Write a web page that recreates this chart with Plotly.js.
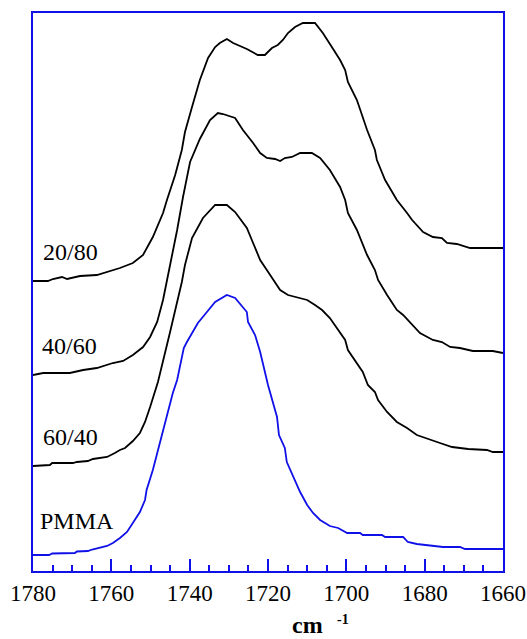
<!DOCTYPE html>
<html>
<head>
<meta charset="utf-8">
<script src="https://cdn.plot.ly/plotly-3.0.1.min.js"></script>
<style>
html,body{margin:0;padding:0;background:#fff;}
#chart{width:527px;height:639px;}
#chart text{font-family:'Liberation Serif','Times New Roman',serif !important;}
</style>
</head>
<body>
<div id="chart"></div>
<script>
// Wavenumbers (cm^-1) and offset absorbance (arbitrary units)
const pmmaX = [1780,1775.9,1775.1,1769.3,1768.8,1766.0,1764.9,1762.9,1761.1,1759.6,1757.8,1756.0,1754.5,1752.7,1751.4,1751.0,1749.4,1747.6,1745.8,1744.3,1743.2,1741.5,1740.7,1737.9,1735.6,1733.5,1730.5,1728.4,1725.4,1725.1,1723.3,1722.0,1720.0,1718.7,1717.7,1717.2,1715.7,1715.2,1713.6,1711.8,1710.0,1708.5,1706.7,1704.2,1702.1,1699.8,1696.5,1695.8,1690.9,1690.1,1685.5,1684.3,1682.0,1679.4,1675.3,1671.0,1669.7,1660];
const pmmaY = [0.16,0.16,0.175,0.18,0.195,0.20,0.215,0.23,0.25,0.28,0.33,0.39,0.48,0.59,0.71,0.81,1.01,1.28,1.54,1.78,1.91,2.23,2.29,2.48,2.59,2.69,2.76,2.73,2.59,2.49,2.36,2.19,1.86,1.68,1.54,1.36,1.23,1.09,0.94,0.79,0.66,0.58,0.51,0.45,0.43,0.38,0.38,0.36,0.36,0.34,0.34,0.29,0.27,0.26,0.24,0.24,0.22,0.22];

const b6040X = [1780,1775.7,1775.1,1769.8,1768.8,1766.0,1764.7,1761.1,1759.1,1757.8,1756.5,1754.5,1752.7,1751.4,1750.1,1749.4,1748.1,1745.0,1742.0,1741.2,1739.4,1736.6,1733.5,1730.5,1728.4,1725.4,1722.0,1720.3,1718.7,1716.9,1714.9,1712.6,1710.0,1708.0,1706.2,1704.2,1702.1,1700.3,1699.6,1697.8,1695.8,1694.5,1692.7,1691.9,1689.6,1687.1,1684.5,1682.0,1678.6,1676.1,1673.0,1668.9,1664.1,1662.6,1660];
const b6040Y = [1.05,1.06,1.08,1.08,1.09,1.10,1.12,1.14,1.18,1.21,1.23,1.30,1.38,1.49,1.64,1.73,1.89,2.39,2.89,3.06,3.33,3.53,3.66,3.66,3.59,3.43,3.11,3.01,2.91,2.81,2.76,2.74,2.71,2.66,2.61,2.53,2.41,2.31,2.21,2.11,1.99,1.86,1.79,1.71,1.59,1.49,1.43,1.36,1.31,1.28,1.24,1.22,1.21,1.19,1.19];

const b4060X = [1780,1777.4,1770.6,1767.2,1763.7,1759.6,1757.0,1754.5,1751.9,1750.1,1748.3,1746.8,1745.0,1743.2,1741.7,1739.9,1737.4,1734.8,1732.8,1731.5,1728.4,1726.4,1723.8,1722.0,1720.3,1718.2,1716.9,1715.7,1713.9,1711.8,1708.8,1706.7,1704.2,1701.6,1700.3,1699.6,1697.3,1694.7,1692.7,1691.9,1689.6,1687.1,1685.5,1683.2,1681.2,1677.9,1675.6,1673.5,1671.0,1667.7,1662.6,1660];
const b4060Y = [1.96,1.98,1.98,2.01,2.03,2.08,2.10,2.16,2.24,2.34,2.49,2.71,3.06,3.41,3.74,4.09,4.32,4.51,4.58,4.57,4.53,4.41,4.28,4.18,4.13,4.12,4.10,4.13,4.14,4.18,4.18,4.13,4.01,3.84,3.71,3.58,3.41,3.16,3.01,2.91,2.76,2.61,2.56,2.46,2.38,2.31,2.29,2.24,2.23,2.20,2.20,2.18];

const b2080X = [1780,1776.2,1774.9,1772.6,1771.3,1768.0,1763.7,1761.1,1757.8,1754.5,1751.9,1749.4,1746.8,1745.8,1743.7,1742.0,1741.2,1739.4,1737.4,1735.3,1733.5,1732.3,1730.5,1728.9,1725.4,1722.6,1720.8,1719.0,1717.5,1716.2,1714.9,1713.1,1711.1,1708.0,1706.0,1703.7,1701.6,1700.3,1699.6,1697.3,1694.7,1692.7,1692.2,1690.1,1687.1,1684.5,1683.2,1680.4,1677.9,1675.6,1674.3,1671.8,1668.4,1660];
const b2080Y = [2.90,2.90,2.92,2.94,2.92,2.95,2.96,2.99,3.03,3.08,3.16,3.34,3.58,3.71,3.96,4.21,4.39,4.64,4.91,5.13,5.24,5.28,5.32,5.28,5.22,5.16,5.16,5.23,5.26,5.31,5.38,5.44,5.48,5.48,5.38,5.24,5.11,5.01,4.89,4.71,4.41,4.21,4.11,3.91,3.71,3.58,3.51,3.39,3.34,3.33,3.28,3.27,3.23,3.23];

const seriesNames = ['PMMA','60/40','40/60','20/80'];
const tickVals = [1780,1760,1740,1720,1700,1680,1660];
const tickText = ['1780','1760','1740','1720','1700','1680','1660'];

const BLUE = '#1010e8';
const lineBlack = {color:'#000', width:1.8};

const traces = [
  {x:pmmaX, y:pmmaY, name:seriesNames[0], mode:'lines', line:{color:BLUE, width:1.8}},
  {x:b6040X, y:b6040Y, name:seriesNames[1], mode:'lines', line:lineBlack},
  {x:b4060X, y:b4060Y, name:seriesNames[2], mode:'lines', line:lineBlack},
  {x:b2080X, y:b2080Y, name:seriesNames[3], mode:'lines', line:lineBlack}
];

const serif = 'Liberation Serif';
const labelFont = {family:serif, size:24, color:'#000'};

const layout = {
  width:527, height:639,
  margin:{l:33, r:24, t:13, b:68},
  paper_bgcolor:'#fff', plot_bgcolor:'#fff',
  showlegend:false,
  font:{family:serif, color:'#000'},
  xaxis:{
    range:[1780,1660], showgrid:false, zeroline:false,
    showline:true, linecolor:BLUE, linewidth:2, mirror:true,
    ticks:'inside', ticklen:12, tickwidth:2, tickcolor:BLUE,
    tickvals:tickVals, ticktext:tickText,
    tickfont:{family:serif, size:23, color:'#000'},
    minor:{dtick:5, ticks:'inside', ticklen:6, tickwidth:2, tickcolor:BLUE, showgrid:false}
  },
  yaxis:{
    range:[0,5.58], showgrid:false, zeroline:false,
    showline:true, linecolor:BLUE, linewidth:2, mirror:true,
    ticks:'', showticklabels:false
  },
  annotations:[
    {x:1770.3, y:3.19, xref:'x', yref:'y', text:'20/80', showarrow:false, font:labelFont, xanchor:'center', yanchor:'middle'},
    {x:1770.8, y:2.25, xref:'x', yref:'y', text:'40/60', showarrow:false, font:labelFont, xanchor:'center', yanchor:'middle'},
    {x:1770.3, y:1.34, xref:'x', yref:'y', text:'60/40', showarrow:false, font:labelFont, xanchor:'center', yanchor:'middle'},
    {x:1768.8, y:0.505, xref:'x', yref:'y', text:'PMMA', showarrow:false, font:labelFont, xanchor:'center', yanchor:'middle'},
    {x:0.585, y:-0.097, xref:'paper', yref:'paper', text:'<b>cm</b>', showarrow:false, font:{family:serif, size:24, color:'#000'}, xanchor:'center', yanchor:'middle'},
    {x:0.66, y:-0.0875, xref:'paper', yref:'paper', text:'<b>-1</b>', showarrow:false, font:{family:serif, size:14, color:'#000'}, xanchor:'center', yanchor:'middle'}
  ]
};

function forceSerif(){
  document.querySelectorAll('#chart text').forEach(function(t){
    t.style.setProperty('font-family', "'Liberation Serif', 'Times New Roman', serif", 'important');
  });
}
Plotly.newPlot('chart', traces, layout, {displayModeBar:false}).then(function(gd){
  forceSerif();
  gd.on('plotly_afterplot', forceSerif);
});
</script>
</body>
</html>
